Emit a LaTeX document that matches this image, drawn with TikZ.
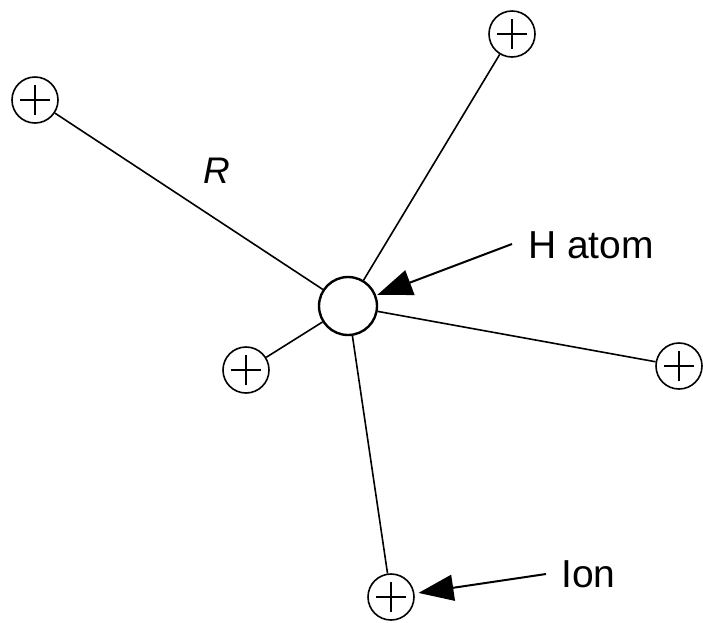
\documentclass[tikz,border=0pt]{standalone}
\usepackage{fontspec}
\setmainfont{Liberation Sans}
\usetikzlibrary{arrows.meta}
\begin{document}
\begin{tikzpicture}[x=1pt,y=-1pt,
  ion/.style={circle,draw,line width=1.6pt,minimum size=46pt,inner sep=0pt,
    path picture={\draw[line width=1.4pt] ([xshift=-15pt]path picture bounding box.center) -- ([xshift=15pt]path picture bounding box.center);
                  \draw[line width=1.4pt] ([yshift=-15pt]path picture bounding box.center) -- ([yshift=15pt]path picture bounding box.center);}},
  atom/.style={circle,draw,line width=2.4pt,minimum size=58pt,inner sep=0pt},
  bond/.style={line width=1.6pt},
  pointer/.style={line width=2pt,-{Triangle[length=35pt,width=26pt]}},
  lbl/.style={font=\fontsize{39}{39}\selectfont,inner sep=0pt}]
\useasboundingbox (0,0) rectangle (703,622);
\node[atom] (H) at (348,306) {};
\node[ion] (i1) at (35,100) {};
\node[ion] (i2) at (512,34) {};
\node[ion] (i3) at (246,370) {};
\node[ion] (i4) at (679,366) {};
\node[ion] (i5) at (391,597) {};
\foreach \n in {i1,i2,i3,i4,i5} \draw[bond] (H) -- (\n);
\node[lbl,font=\fontsize{37}{37}\selectfont\itshape] (R) at (217,171) {R};
\node[lbl,anchor=base west] (Hl) at (528,258) {H atom};
\node[lbl,anchor=base west] (Il) at (561,587) {Ion};
\coordinate (ha) at (512,244);
\coordinate (ia) at (546,574);
\draw[pointer,shorten >=1pt] (ha) -- (H);
\draw[pointer,shorten >=4pt] (ia) -- (i5);
\end{tikzpicture}
\end{document}
